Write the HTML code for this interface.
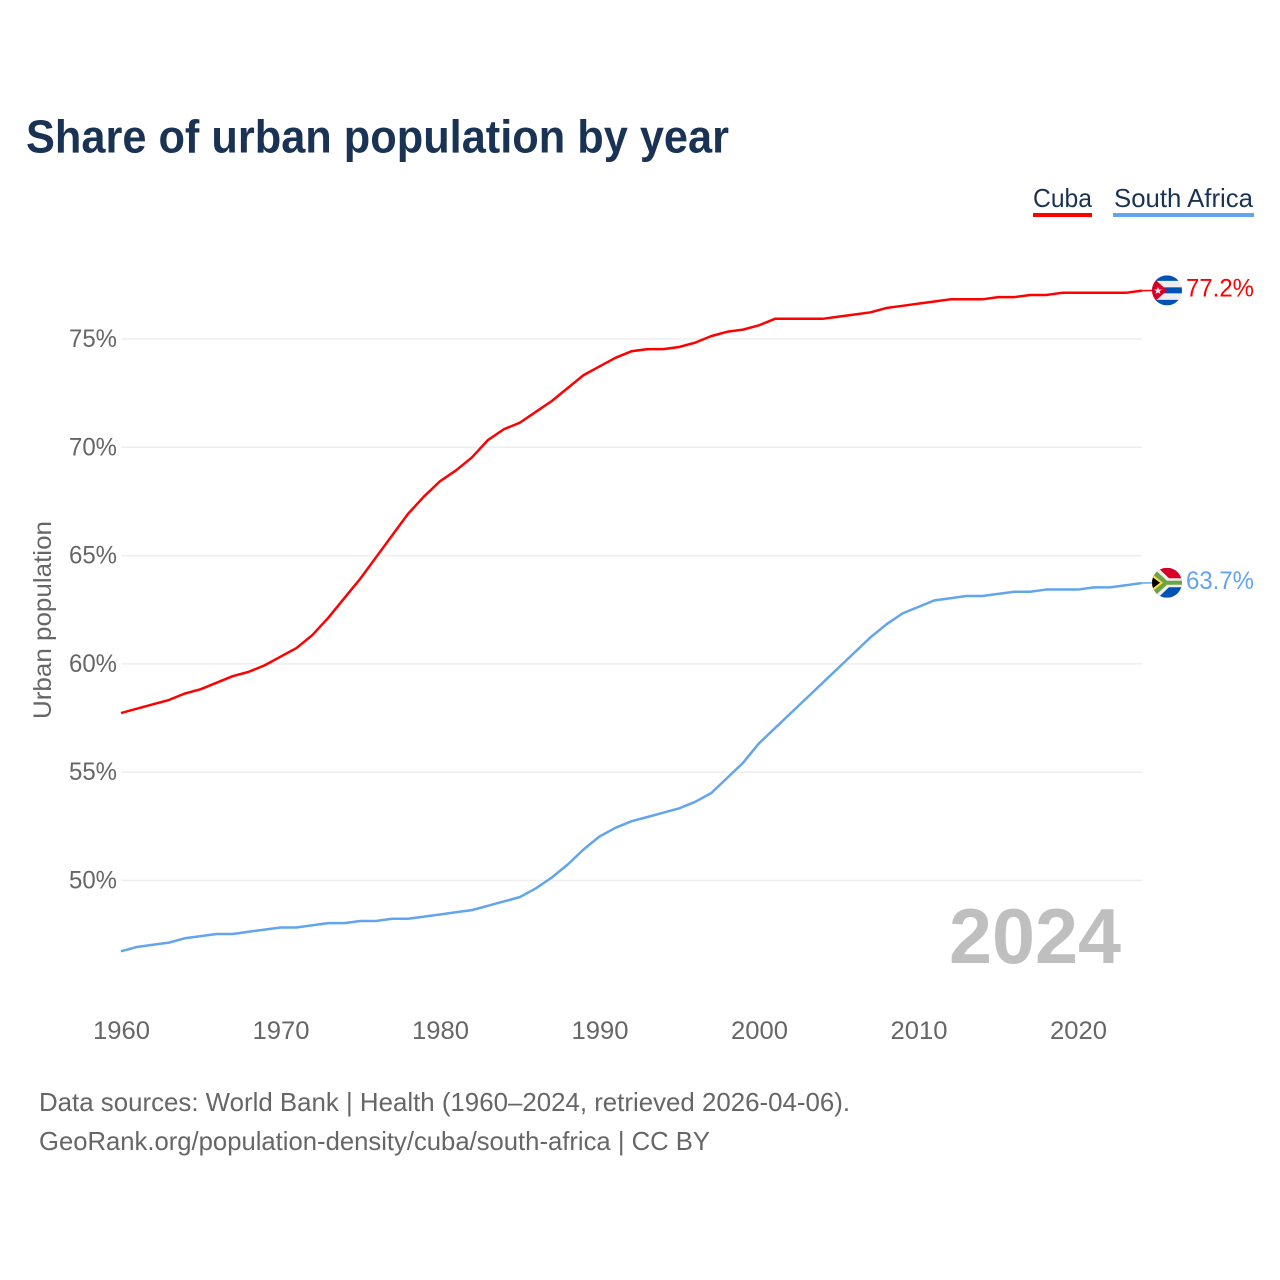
<!DOCTYPE html>
<html lang="en">
<head>
<meta charset="utf-8">
<title>Share of urban population by year</title>
<style>
html,body{margin:0;padding:0;background:#fff}
svg{display:block}
text{font-family:"Liberation Sans",sans-serif}
</style>
</head>
<body>
<svg id="chart" xmlns="http://www.w3.org/2000/svg" width="1280" height="1280" viewBox="0 0 1280 1280">
  <defs>
    <clipPath id="flag-clip-cuba"><circle cx="0" cy="0" r="15"/></clipPath>
    <clipPath id="flag-clip-za"><circle cx="0" cy="0" r="15"/></clipPath>
  </defs>
  <text x="26" y="152.5" font-size="46" font-weight="700" fill="#1a3355" textLength="703" lengthAdjust="spacingAndGlyphs">Share of urban population by year</text>

  <g>
    <g>
      <text x="1033" y="207" font-size="26" fill="#1a3355" textLength="59" lengthAdjust="spacingAndGlyphs">Cuba</text>
      <rect x="1033" y="213" width="59" height="4" fill="#ff0000"/>
    </g>
    <g>
      <text x="1114" y="207" font-size="26" fill="#1a3355" textLength="139" lengthAdjust="spacingAndGlyphs">South Africa</text>
      <rect x="1113" y="213" width="141" height="4" fill="#62a5ec"/>
    </g>
  </g>

  <g id="grid"></g>
  <g id="y-ticks"></g>
  <g id="x-ticks"></g>

  <text transform="translate(51,620) rotate(-90)" x="0" y="0" text-anchor="middle" font-size="25" fill="#666666" textLength="198" lengthAdjust="spacingAndGlyphs">Urban population</text>

  <text x="949" y="963" font-size="78" font-weight="700" fill="#bfbfbf" textLength="172" lengthAdjust="spacingAndGlyphs">2024</text>

  <g id="series"></g>

  <g id="flag-cuba">
    <g clip-path="url(#flag-clip-cuba)">
      <rect x="-15" y="-15" width="30" height="30" fill="#eeeeee"/>
      <rect x="-15" y="-15" width="30" height="5.5" fill="#0052b4"/>
      <rect x="-15" y="-3" width="30" height="6" fill="#0052b4"/>
      <rect x="-15" y="9.5" width="30" height="5.5" fill="#0052b4"/>
      <polygon points="-15,-12 -13,-12 0,0 -13,12 -15,12" fill="#d80027"/>
      <polygon points="-9,-3.6 -8,-0.9 -5.2,-0.9 -7.4,0.9 -6.6,3.6 -9,2 -11.4,3.6 -10.6,0.9 -12.8,-0.9 -10,-0.9" fill="#eeeeee"/>
    </g>
  </g>

  <g id="flag-za">
    <g clip-path="url(#flag-clip-za)">
      <rect x="-15" y="-15" width="30" height="15" fill="#d80027"/>
      <rect x="-15" y="0" width="30" height="15" fill="#0052b4"/>
      <polygon points="-15,-15 -9,-15 2,-4.5 15,-4.5 15,4.5 2,4.5 -9,15 -15,15" fill="#eeeeee"/>
      <polygon points="-15,-13 -12,-13 0,-2 15,-2 15,2 0,2 -12,13 -15,13" fill="#6da544"/>
      <polygon points="-15,-9 -4,0 -15,9" fill="#ffda44"/>
      <polygon points="-15,-6 -7,0 -15,6" fill="#000000"/>
    </g>
  </g>

  <text x="39" y="1111" font-size="26" fill="#666666" textLength="811" lengthAdjust="spacingAndGlyphs">Data sources: World Bank | Health (1960–2024, retrieved 2026-04-06).</text>
  <text x="39" y="1150" font-size="26" fill="#666666" textLength="671" lengthAdjust="spacingAndGlyphs">GeoRank.org/population-density/cuba/south-africa | CC BY</text>
</svg>
<script>
var years = [1960,1961,1962,1963,1964,1965,1966,1967,1968,1969,1970,1971,1972,1973,1974,1975,1976,1977,1978,1979,1980,1981,1982,1983,1984,1985,1986,1987,1988,1989,1990,1991,1992,1993,1994,1995,1996,1997,1998,1999,2000,2001,2002,2003,2004,2005,2006,2007,2008,2009,2010,2011,2012,2013,2014,2015,2016,2017,2018,2019,2020,2021,2022,2023,2024];
var cubaValues = [57.7,57.9,58.1,58.3,58.6,58.8,59.1,59.4,59.6,59.9,60.3,60.7,61.3,62.1,63.0,63.9,64.9,65.9,66.9,67.7,68.4,68.9,69.5,70.3,70.8,71.1,71.6,72.1,72.7,73.3,73.7,74.1,74.4,74.5,74.5,74.6,74.8,75.1,75.3,75.4,75.6,75.9,75.9,75.9,75.9,76.0,76.1,76.2,76.4,76.5,76.6,76.7,76.8,76.8,76.8,76.9,76.9,77.0,77.0,77.1,77.1,77.1,77.1,77.1,77.2];
var southAfricaValues = [46.7,46.9,47.0,47.1,47.3,47.4,47.5,47.5,47.6,47.7,47.8,47.8,47.9,48.0,48.0,48.1,48.1,48.2,48.2,48.3,48.4,48.5,48.6,48.8,49.0,49.2,49.6,50.1,50.7,51.4,52.0,52.4,52.7,52.9,53.1,53.3,53.6,54.0,54.7,55.4,56.3,57.0,57.7,58.4,59.1,59.8,60.5,61.2,61.8,62.3,62.6,62.9,63.0,63.1,63.1,63.2,63.3,63.3,63.4,63.4,63.4,63.5,63.5,63.6,63.7];
var yTickValues = [50,55,60,65,70,75];
var xTickValues = [1960,1970,1980,1990,2000,2010,2020];

var NS = 'http://www.w3.org/2000/svg';
function xScale(year){ return 121.5 + (year - 1960) * 15.95; }
function yScale(pct){ return 339 + (75 - pct) * 21.66; }
function make(tag, attrs, parent){
  var el = document.createElementNS(NS, tag);
  for (var k in attrs) { el.setAttribute(k, attrs[k]); }
  parent.appendChild(el);
  return el;
}

var gridG = document.getElementById('grid');
var yG = document.getElementById('y-ticks');
yTickValues.forEach(function(v){
  var ln = make('line', {x1: 121.5, x2: 1142, y1: yScale(v), y2: yScale(v), stroke: '#eeeeee', 'stroke-width': 1.5}, gridG);
  
  
  var t = make('text', {x: 117, y: yScale(v) + 8, 'text-anchor': 'end', 'font-size': 25, fill: '#666666', textLength: 48, lengthAdjust: 'spacingAndGlyphs'}, yG);
  
  
  t.textContent = v + '%';
});

var xG = document.getElementById('x-ticks');
xTickValues.forEach(function(v){
  var t = make('text', {x: xScale(v), y: 1039, 'text-anchor': 'middle', 'font-size': 25, fill: '#666666', textLength: 57, lengthAdjust: 'spacingAndGlyphs'}, xG);
  
  
  t.textContent = v;
});

function drawSeries(values, color, lineName, connectorName){
  var g = document.getElementById('series');
  var pts = values.map(function(v, i){ return (xScale(years[i]) - 0.5).toFixed(2) + ',' + (yScale(v) - 0.7).toFixed(2); }).join(' ');
  var line = make('polyline', {points: pts, fill: 'none', stroke: color, 'stroke-width': 2.5, 'stroke-linejoin': 'round'}, g);
  
  
  var last = values[values.length - 1];
  var lastYear = years[years.length - 1];
  var conn = make('line', {x1: xScale(lastYear) - 0.5, y1: yScale(last) - 0.7, x2: xScale(lastYear) + 20, y2: yScale(last) - 1, stroke: color, 'stroke-width': 1.5}, g);
  
  
}
drawSeries(cubaValues, '#ff0000', 'line-cuba', 'connector-cuba');
drawSeries(southAfricaValues, '#62a5ec', 'line-south-africa', 'connector-south-africa');

function placeEnd(flagId, values, color, labelName){
  var last = values[values.length - 1];
  var lastYear = years[years.length - 1];
  var cy = yScale(last) - 1;
  var svg = document.getElementById('chart');
  var flag = document.getElementById(flagId);
  flag.setAttribute('transform', 'translate(' + (xScale(lastYear) + 24.7) + ',' + cy + ')');
  svg.appendChild(flag);
  var t = make('text', {x: 1186, y: cy + 6, 'font-size': 25, fill: color, textLength: 68, lengthAdjust: 'spacingAndGlyphs'}, svg);
  
  
  t.textContent = last.toFixed(1) + '%';
}
placeEnd('flag-cuba', cubaValues, '#ff0000', 'end-label-cuba');
placeEnd('flag-za', southAfricaValues, '#62a5ec', 'end-label-south-africa');
</script>
</body>
</html>
